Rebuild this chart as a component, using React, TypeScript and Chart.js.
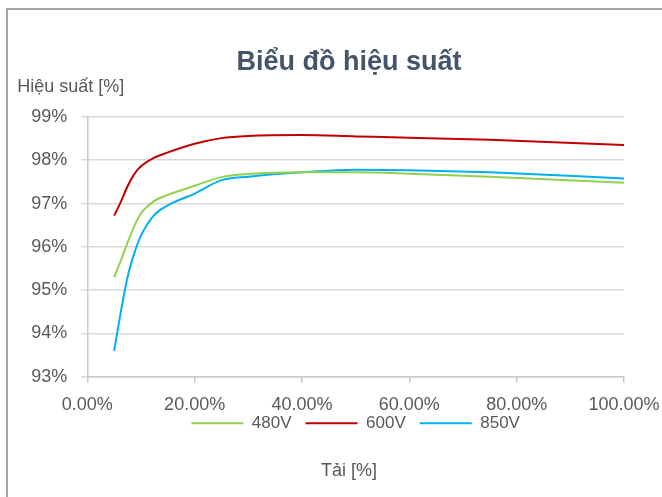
import React, { useEffect, useRef } from "react";
import { Chart, registerables } from "chart.js";

Chart.register(...registerables);

// ---- data ----
const loadPct = [5, 6.25, 7.5, 8.75, 10, 12.5, 15, 20, 25, 30, 40, 50, 60, 75, 100];
const eff480 = [95.3, 95.68, 96.1, 96.48, 96.77, 97.06, 97.2, 97.41, 97.61, 97.68, 97.72, 97.72, 97.69, 97.62, 97.48];
const eff600 = [96.72, 97.04, 97.4, 97.68, 97.86, 98.06, 98.18, 98.38, 98.51, 98.56, 98.58, 98.55, 98.52, 98.47, 98.35];
const eff850 = [93.6, 94.5, 95.3, 95.85, 96.26, 96.74, 96.96, 97.23, 97.54, 97.62, 97.72, 97.78, 97.77, 97.72, 97.58];
const seriesNames = ["480V", "600V", "850V"];
const seriesColors = ["#92D050", "#C00000", "#00B0F0"];
const xTickValues = [0, 20, 40, 60, 80, 100];
const yTickValues = [93, 94, 95, 96, 97, 98, 99];
const chartTitle = "Biểu đồ hiệu suất";
const yAxisLabel = "Hiệu suất [%]";
const xAxisLabel = "Tải [%]";

const FONT = "'Liberation Sans', Arial, sans-serif";

const yLabelPlugin = {
  id: "yLabelTop",
  afterLayout(chart: any) {
    // let x tick labels extend below the (compact) x-axis box without being clipped
    const xs = chart.scales.x;
    if (xs) xs.bottom = xs.top + 60;
  },
  afterDraw(chart: any) {
    const { ctx, chartArea } = chart;
    ctx.save();
    ctx.font = `18px ${FONT}`;
    ctx.fillStyle = "#595959";
    ctx.textAlign = "left";
    ctx.textBaseline = "middle";
    ctx.fillText(yAxisLabel, chartArea.left - 70, chartArea.top - 30);
    ctx.restore();
  },
};

export default function App() {
  const canvasRef = useRef<HTMLCanvasElement | null>(null);

  useEffect(() => {
    if (!canvasRef.current) return;
    const seriesValues = [eff480, eff600, eff850];
    const datasets = seriesNames.map((name, i) => ({
      label: name,
      data: loadPct.map((x, j) => ({ x, y: seriesValues[i][j] })),
      borderColor: seriesColors[i],
      backgroundColor: seriesColors[i],
      pointBorderColor: seriesColors[i],
      pointBackgroundColor: seriesColors[i],
      pointBorderWidth: 2,
      borderWidth: 2,
      pointRadius: 0,
      pointHoverRadius: 0,
      pointStyle: "line" as const,
      cubicInterpolationMode: "monotone" as const,
      fill: false,
      yAxisID: "y",
    }));

    const chart = new Chart(canvasRef.current, {
      type: "line",
      data: { datasets },
      plugins: [yLabelPlugin],
      options: {
        animation: false,
        responsive: false,
        maintainAspectRatio: false,
        layout: { padding: 0 },
        font: { family: FONT },
        plugins: {
          tooltip: { enabled: false },
          title: {
            display: true,
            text: chartTitle,
            color: "#44546A",
            font: { family: FONT, size: 27, weight: "bold" },
            padding: { top: 36, bottom: 38.5 },
          },
          subtitle: {
            display: true,
            text: xAxisLabel,
            position: "bottom",
            color: "#595959",
            font: { family: FONT, size: 18 },
            padding: { top: 18, bottom: 34.6 },
          },
          legend: {
            display: true,
            position: "bottom",
            fullSize: false,
            labels: {
              usePointStyle: true,
              pointStyle: "line",
              pointStyleWidth: 52,
              boxHeight: 16,
              padding: 14,
              color: "#595959",
              font: { family: FONT, size: 17 },
            },
          },
        },
        scales: {
          x: {
            type: "linear",
            min: 0,
            max: 100,
            afterBuildTicks: (scale: any) => {
              scale.ticks = xTickValues.map((v) => ({ value: v }));
            },
            afterFit: (scale: any) => {
              scale.height = 24;
            },
            ticks: {
              color: "#595959",
              font: { family: FONT, size: 18 },
              padding: 11,
              maxRotation: 0,
              autoSkip: false,
              callback: (v: any) => Number(v).toFixed(2) + "%",
            },
            grid: {
              drawOnChartArea: false,
              drawTicks: true,
              tickLength: 6,
              color: "#c8c8c8",
              lineWidth: 1.5,
            },
            border: { color: "#c8c8c8", width: 1.5 },
          },
          y: {
            type: "linear",
            position: "left",
            min: 93,
            max: 99,
            afterBuildTicks: (scale: any) => {
              scale.ticks = yTickValues.map((v) => ({ value: v }));
            },
            afterFit: (scale: any) => {
              scale.width = 79.3;
            },
            ticks: {
              color: "#595959",
              font: { family: FONT, size: 18 },
              padding: 14,
              autoSkip: false,
              callback: (v: any) => v + "%",
            },
            grid: {
              drawOnChartArea: true,
              drawTicks: true,
              tickLength: 6,
              color: "#d9d9d9",
              lineWidth: 1.5,
            },
            border: { color: "#c8c8c8", width: 1.5 },
          },
          rightSpace: {
            type: "linear",
            position: "right",
            display: true,
            grid: { display: false, drawTicks: false },
            ticks: { display: false },
            border: { display: false },
            afterFit: (scale: any) => {
              scale.width = 66;
            },
          },
        },
      },
    });
    return () => chart.destroy();
  }, []);

  return (
    <div
      style={{
        position: "fixed",
        left: 6,
        top: 8,
        width: 682,
        height: 506,
        border: "2px solid #a6a6a6",
        background: "#ffffff",
      }}
    >
      <canvas ref={canvasRef} width={682} height={506} style={{ display: "block", width: 682, height: 506 }} />
    </div>
  );
}
